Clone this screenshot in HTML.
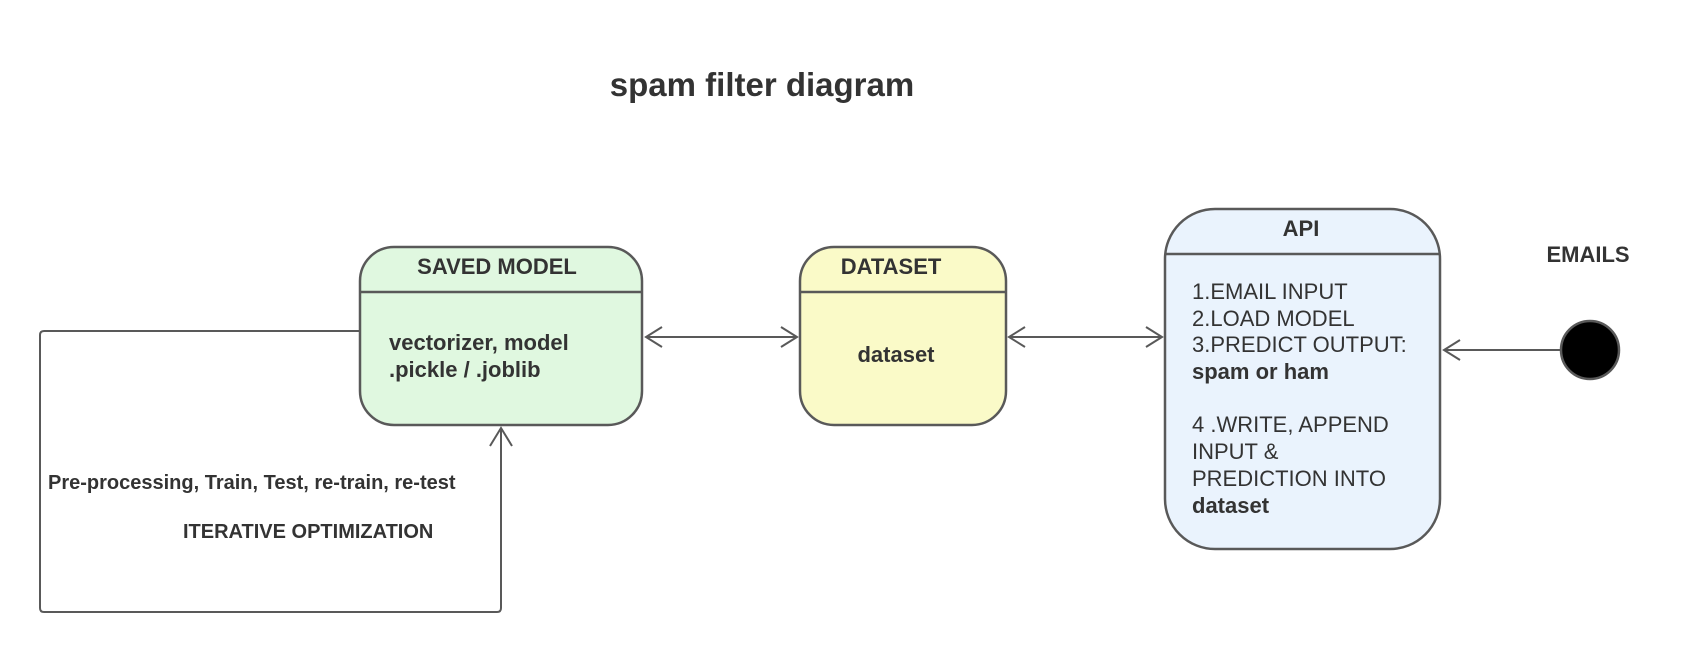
<!DOCTYPE html>
<html><head><meta charset="utf-8"><style>
body{margin:0;background:#fff;}
svg{display:block;font-family:"Liberation Sans",Arial,sans-serif;}
</style></head><body>
<svg width="1707" height="650" viewBox="0 0 1707 650" xmlns="http://www.w3.org/2000/svg">
<text x="762" y="96" font-size="33" font-weight="bold" fill="#333" text-anchor="middle">spam filter diagram</text>

<!-- loop -->
<path d="M360 331 H44 Q40 331 40 335 V608 Q40 612 44 612 H497 Q501 612 501 608 V428" fill="none" stroke="#595959" stroke-width="2"/>
<path d="M490 446 L501 428 L512 446" fill="none" stroke="#595959" stroke-width="2"/>

<!-- saved model -->
<rect x="360" y="247" width="282" height="178" rx="34" fill="#e0f8e0" stroke="#595959" stroke-width="2.5"/>
<line x1="360" y1="292" x2="642" y2="292" stroke="#595959" stroke-width="2.5"/>
<text x="497" y="274" font-size="22" font-weight="bold" fill="#333" text-anchor="middle">SAVED MODEL</text>
<text x="389" y="350" font-size="22" font-weight="bold" fill="#333">vectorizer, model</text>
<text x="389" y="377" font-size="22" font-weight="bold" fill="#333">.pickle / .joblib</text>

<!-- dataset -->
<rect x="800" y="247" width="206" height="178" rx="34" fill="#fafac8" stroke="#595959" stroke-width="2.5"/>
<line x1="800" y1="292" x2="1006" y2="292" stroke="#595959" stroke-width="2.5"/>
<text x="891" y="274" font-size="22" font-weight="bold" fill="#333" text-anchor="middle">DATASET</text>
<text x="896" y="362" font-size="22" font-weight="bold" fill="#333" text-anchor="middle">dataset</text>

<!-- API -->
<rect x="1165" y="209" width="275" height="340" rx="50" fill="#eaf3fd" stroke="#595959" stroke-width="2.5"/>
<line x1="1165" y1="254" x2="1440" y2="254" stroke="#595959" stroke-width="2.5"/>
<text x="1301" y="236" font-size="22" font-weight="bold" fill="#333" text-anchor="middle">API</text>
<g font-size="22" fill="#333">
<text x="1192" y="299">1.EMAIL INPUT</text>
<text x="1192" y="326">2.LOAD MODEL</text>
<text x="1192" y="352">3.PREDICT OUTPUT:</text>
<text x="1192" y="379" font-weight="bold">spam or ham</text>
<text x="1192" y="432">4 .WRITE, APPEND</text>
<text x="1192" y="459">INPUT &amp;</text>
<text x="1192" y="486">PREDICTION INTO</text>
<text x="1192" y="513" font-weight="bold">dataset</text>
</g>

<!-- arrows -->
<g fill="none" stroke="#595959" stroke-width="2">
<line x1="646" y1="337" x2="797" y2="337"/>
<path d="M662 327 L646 337 L662 347"/>
<path d="M781 327 L797 337 L781 347"/>
<line x1="1009" y1="337" x2="1162" y2="337"/>
<path d="M1025 327 L1009 337 L1025 347"/>
<path d="M1146 327 L1162 337 L1146 347"/>
<line x1="1444" y1="350" x2="1561" y2="350"/>
<path d="M1460 340 L1444 350 L1460 360"/>
</g>

<circle cx="1590" cy="350" r="29" fill="#000" stroke="#595959" stroke-width="2.5"/>
<text x="1588" y="262" font-size="22" font-weight="bold" fill="#333" text-anchor="middle">EMAILS</text>

<text x="48" y="489" font-size="20" font-weight="bold" fill="#333">Pre-processing, Train, Test, re-train, re-test</text>
<text x="183" y="538" font-size="20" font-weight="bold" fill="#333">ITERATIVE OPTIMIZATION</text>
</svg>
</body></html>
